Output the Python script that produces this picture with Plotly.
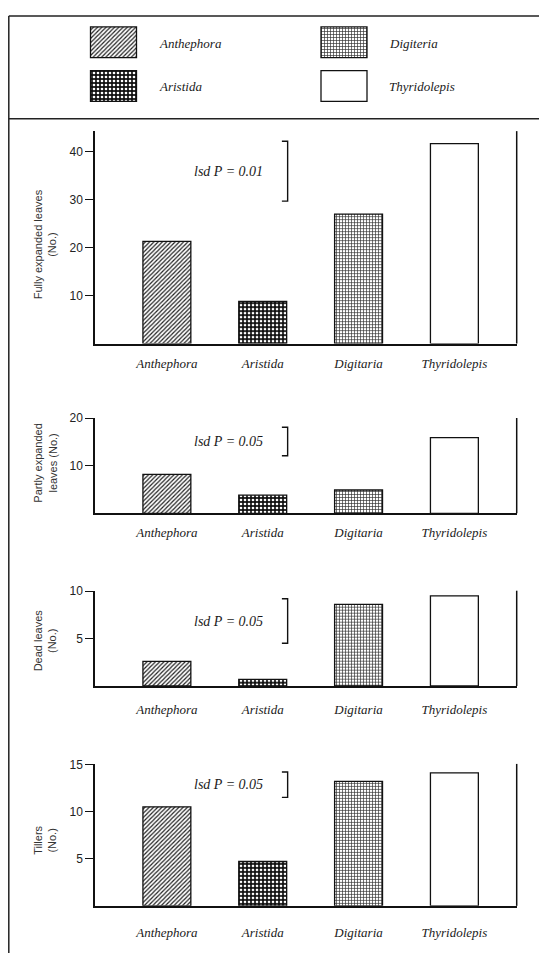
import plotly.graph_objects as go

# ---------------- data ----------------
species = ["Anthephora", "Aristida", "Digitaria", "Thyridolepis"]
legend_names = ["Anthephora", "Aristida", "Digiteria", "Thyridolepis"]

fully_expanded = [21.3, 8.8, 27.0, 41.7]
partly_expanded = [8.2, 3.8, 4.9, 15.9]
dead_leaves = [2.6, 0.7, 8.6, 9.5]
tillers = [10.5, 4.7, 13.2, 14.1]

panel_titles = ["Fully expanded leaves<br>(No.)", "Partly expanded<br>leaves (No.)",
                "Dead leaves<br>(No.)", "Tillers<br>(No.)"]
panel_ticks = [[10, 20, 30, 40], [10, 20], [5, 10], [5, 10, 15]]
lsd_labels = ["lsd P = 0.01", "lsd P = 0.05", "lsd P = 0.05", "lsd P = 0.05"]
lsd_top = [42.2, 18.1, 9.2, 14.2]
lsd_bottom = [29.7, 12.1, 4.5, 11.5]

# ---------------- geometry (page pixels; page body has 8px margin) ----------------
PAGE_W, PAGE_H = 547, 953
OFF = 8
W, H = PAGE_W - OFF, PAGE_H - OFF


def fx(px):
    return (px - OFF) / W


def fy(py):
    return 1 - (py - OFF) / H


pat_shape = ["/", ".", "+", ""]
pat_fg = ["#222222", "#ffffff", "#333333", "#ffffff"]
pat_bg = ["#ffffff", "#111111", "#ffffff", "#ffffff"]
pat_size = [3, 4, 3, 4]
pat_sol = [0.4, 0.35, 0.4, 0.3]

serif_it = dict(family="Liberation Serif, DejaVu Serif, serif", size=13, color="#1a1a1a", style="italic")
lsd_f = dict(family="Liberation Serif, DejaVu Serif, serif", size=14, color="#1a1a1a", style="italic")
sans_n = dict(family="Liberation Sans Narrow, Liberation Sans, sans-serif", size=11, color="#333333")
tick_f = dict(family="Liberation Sans Narrow, Liberation Sans, sans-serif", size=12, color="#222222")

panels = [
    dict(vals=fully_expanded, base=339, top=125, rng=[0, 44.3], stand=7, tc=239),
    dict(vals=partly_expanded, base=510, top=414, rng=[0, 20.05], stand=6, tc=459),
    dict(vals=dead_leaves, base=684, top=588, rng=[0, 10.05], stand=11, tc=638),
    dict(vals=tillers, base=905.5, top=762.5, rng=[0, 15.05], stand=14, tc=840),
]
x_left, x_right = 95, 516.7

fig = go.Figure()
shapes = []
annotations = []

for i, p in enumerate(panels):
    n = i + 1
    xa = "x" if n == 1 else f"x{n}"
    ya = "y" if n == 1 else f"y{n}"
    fig.add_trace(go.Bar(
        x=species, y=p["vals"], xaxis=xa, yaxis=ya, width=0.5,
        marker=dict(color="#ffffff", line=dict(color="#111111", width=1.3),
                    pattern=dict(shape=pat_shape, fgcolor=pat_fg, bgcolor=pat_bg,
                                 size=pat_size, solidity=pat_sol, fillmode="replace")),
        showlegend=False, hoverinfo="skip"))
    xkey = "xaxis" if n == 1 else f"xaxis{n}"
    ykey = "yaxis" if n == 1 else f"yaxis{n}"
    fig.update_layout(**{
        xkey: dict(domain=[fx(x_left), fx(x_right)], anchor=ya, range=[-0.75, 3.65],
                   type="category", showline=True, linecolor="#111111", linewidth=1.5,
                   ticks="", showgrid=False, zeroline=False, tickfont=serif_it,
                   ticklabelstandoff=p["stand"], fixedrange=True),
        ykey: dict(domain=[fy(p["base"]), fy(p["top"])], anchor=xa, range=p["rng"],
                   showline=True, linecolor="#111111", linewidth=1.5, ticks="outside",
                   ticklen=8, tickwidth=1.2, tickcolor="#111111", tickvals=panel_ticks[i],
                   showgrid=False, zeroline=False, tickfont=tick_f, fixedrange=True),
    })
    shapes.append(dict(type="line", xref=f"{xa} domain", yref=f"{ya} domain",
                       x0=1, x1=1, y0=0, y1=1, line=dict(color="#111111", width=1.5)))
    shapes.append(dict(type="path", xref=xa, yref=ya,
                       path=f"M 1.20,{lsd_top[i]} L 1.26,{lsd_top[i]} L 1.26,{lsd_bottom[i]} L 1.20,{lsd_bottom[i]}",
                       line=dict(color="#111111", width=1.4)))
    annotations.append(dict(xref=xa, yref=ya, x=0.64, y=(lsd_top[i] + lsd_bottom[i]) / 2,
                            text=lsd_labels[i], showarrow=False, font=lsd_f))
    annotations.append(dict(xref="paper", yref="paper", x=fx(45), y=fy(p["tc"]),
                            text=panel_titles[i], textangle=-90, showarrow=False,
                            font=sans_n, xanchor="center", yanchor="middle"))

# ---------------- legend box (separate axis in page-pixel units) ----------------
leg_col_x = [113.5, 344]
leg_row_top = [20, 64]
sw_w, sw_h = 46, 31
for k, name in enumerate(legend_names):
    col, row = k // 2, k % 2
    fig.add_trace(go.Bar(
        x=[leg_col_x[col]], y=[sw_h], base=[leg_row_top[row]], width=[sw_w],
        xaxis="x5", yaxis="y5",
        marker=dict(color="#ffffff", line=dict(color="#111111", width=1.3),
                    pattern=dict(shape=pat_shape[k], fgcolor=pat_fg[k], bgcolor=pat_bg[k],
                                 size=pat_size[k], solidity=pat_sol[k], fillmode="replace")),
        showlegend=False, hoverinfo="skip"))
    annotations.append(dict(xref="x5", yref="y5", x=leg_col_x[col] + sw_w / 2 + 20,
                            y=leg_row_top[row] + sw_h / 2 + 1, text=name, showarrow=False,
                            xanchor="left", yanchor="middle",
                            font=dict(serif_it, size=13)))
fig.update_layout(
    xaxis5=dict(domain=[0, 1], range=[OFF, PAGE_W], visible=False, anchor="y5", fixedrange=True),
    yaxis5=dict(domain=[fy(112), 1], range=[112, OFF], visible=False, anchor="x5", fixedrange=True),
)

frame = dict(color="#222222", width=1.5)
shapes += [
    dict(type="line", xref="paper", yref="paper", x0=fx(8.8), x1=fx(8.8), y0=0, y1=fy(9), line=frame),
    dict(type="line", xref="paper", yref="paper", x0=fx(8.8), x1=1, y0=fy(9), y1=fy(9), line=frame),
    dict(type="line", xref="paper", yref="paper", x0=fx(8.8), x1=1, y0=fy(112.5), y1=fy(112.5), line=frame),
]

fig.update_layout(
    width=W, height=H, margin=dict(l=0, r=0, t=0, b=0),
    paper_bgcolor="#ffffff", plot_bgcolor="#ffffff",
    barmode="overlay", showlegend=False,
    shapes=shapes, annotations=annotations,
)

fig.write_html("out.html")
